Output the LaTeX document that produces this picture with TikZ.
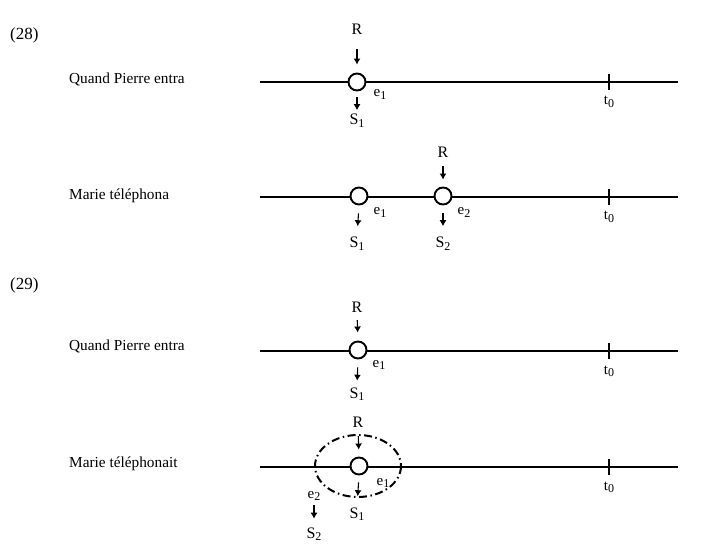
\documentclass[tikz,border=0pt]{standalone}
\usepackage{fontspec}
\setmainfont{Liberation Serif}
\usetikzlibrary{arrows.meta}
\newcommand{\lowsub}[1]{\raisebox{-2.5pt}{\fontsize{12}{12}\selectfont #1}}
\tikzset{
  timeline/.style={line width=1.2pt},
  event/.style={
    circle, draw, fill=white, line width=1.9pt,
    minimum size=17pt, inner sep=0pt
  },
  evlabel/.style={font=\fontsize{15}{17}\selectfont, inner sep=1pt, anchor=base},
  point/.style={font=\fontsize{16}{18}\selectfont, inner sep=1pt, anchor=base},
  clause/.style={font=\fontsize{15.3}{17}\selectfont, anchor=base west, inner sep=0pt},
  exnum/.style={font=\fontsize{17}{19}\selectfont, anchor=base west, inner sep=0pt},
  pointer/.style={-{Latex[length=6pt,width=7pt]}, line width=1.1pt},
  tick/.style={line width=1.1pt},
  zone/.style={line width=2pt, dash pattern=on 8pt off 3.5pt on 1.5pt off 3.5pt}
}

\begin{document}
\begin{tikzpicture}[x=1pt,y=-1pt]
  \useasboundingbox (0,0) rectangle (717,553);

  % (28) Quand Pierre entra
  \node[exnum] (ex28) at (10,40) {(28)};
  \node[clause] (q1) at (69,84) {Quand Pierre entra};
  \coordinate (a1) at (260,82);
  \coordinate (b1) at (678,82);
  \coordinate (t1) at (609,82);
  \draw[timeline] (a1) -- (b1);
  \draw[tick] ([yshift=-8pt]t1) -- ([yshift=8pt]t1);
  \node[evlabel] (tz1) at (609,105) {t\lowsub{0}};
  \node[event] (c1) at (357,82) {};
  \node[point] (r1) at (357,35) {R};
  \node[evlabel] (e1a) at (380,97) {e\lowsub{1}};
  \node[point] (s1) at (357,125) {S\lowsub{1}};
  \draw[pointer, shorten <=13pt, shorten >=8pt] (r1.south) -- (c1.north);
  \draw[pointer, shorten <=6pt, shorten >=3pt] (c1.south) -- (s1.north);

  % Marie telephona
  \node[clause] (m1) at (69,200) {Marie téléphona};
  \coordinate (a2) at (260,197);
  \coordinate (b2) at (678,197);
  \coordinate (t2) at (609,197);
  \draw[timeline] (a2) -- (b2);
  \draw[tick] ([yshift=-8pt]t2) -- ([yshift=8pt]t2);
  \node[evlabel] (tz2) at (609,220) {t\lowsub{0}};
  \node[event] (c21) at (359,196) {};
  \node[event] (c22) at (443,196) {};
  \node[point] (r2) at (443,158) {R};
  \node[evlabel] (e1b) at (380,215) {e\lowsub{1}};
  \node[evlabel] (e2b) at (464,215) {e\lowsub{2}};
  \node[point] (s21) at (357,248) {S\lowsub{1}};
  \node[point] (s22) at (443,248) {S\lowsub{2}};
  \draw[pointer, shorten <=7pt, shorten >=7pt] (r2.south) -- (c22.north);
  \draw[pointer, shorten <=8pt, shorten >=10pt] (c21.south) -- (s21.north);
  \draw[pointer, shorten <=8pt, shorten >=10pt] (c22.south) -- (s22.north);

  % (29) Quand Pierre entra
  \node[exnum] (ex29) at (10,289) {(29)};
  \node[clause] (q2) at (69,350) {Quand Pierre entra};
  \coordinate (a3) at (260,351);
  \coordinate (b3) at (678,351);
  \coordinate (t3) at (609,351);
  \draw[timeline] (a3) -- (b3);
  \draw[tick] ([yshift=-8pt]t3) -- ([yshift=8pt]t3);
  \node[evlabel] (tz3) at (609,374) {t\lowsub{0}};
  \node[event] (c3) at (358,350) {};
  \node[point] (r3) at (357,312) {R};
  \node[evlabel] (e1c) at (379,367) {e\lowsub{1}};
  \node[point] (s3) at (357,398) {S\lowsub{1}};
  \draw[pointer, shorten <=7pt, shorten >=8pt] (r3.south) -- (c3.north);
  \draw[pointer, shorten <=8pt, shorten >=5.5pt] (c3.south) -- (s3.north);

  % Marie telephonait
  \node[clause] (m2) at (69,467) {Marie téléphonait};
  \coordinate (a4) at (260,467);
  \coordinate (b4) at (678,467);
  \coordinate (t4) at (609,467);
  \draw[timeline] (a4) -- (b4);
  \draw[tick] ([yshift=-8pt]t4) -- ([yshift=8pt]t4);
  \node[evlabel] (tz4) at (609,490) {t\lowsub{0}};
  \draw[zone] (358,466) ellipse [x radius=43, y radius=31];
  \node[event] (c4) at (359,466) {};
  \node[point] (r4) at (358,427) {R};
  \node[evlabel] (e1d) at (383,485) {e\lowsub{1}};
  \node[evlabel] (e2d) at (314,498) {e\lowsub{2}};
  \node[point] (s41) at (357,518) {S\lowsub{1}};
  \node[point] (s42) at (314,538) {S\lowsub{2}};
  \draw[pointer, shorten <=8pt, shorten >=7pt] (r4.south) -- (c4.north);
  \draw[pointer, shorten <=7pt, shorten >=10pt] (c4.south) -- (s41.north);
  \draw[pointer, shorten <=3.5pt, shorten >=7.5pt] (e2d.south) -- (s42.north);
\end{tikzpicture}
\end{document}
